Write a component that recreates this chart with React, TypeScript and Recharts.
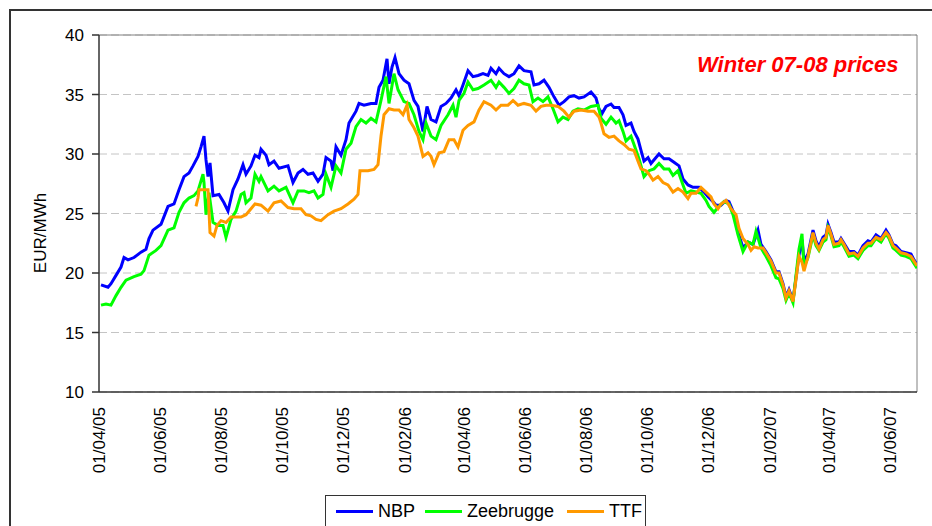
import { LineChart, Line, XAxis, YAxis, CartesianGrid, ReferenceLine, Label } from "recharts";

const FONT = '"Liberation Sans", Arial, sans-serif';

// x = days since 01/04/05
const tickDays = [0, 61, 122, 183, 244, 306, 365, 426, 487, 548, 609, 671, 730, 791];
const tickLabels = [
  "01/04/05", "01/06/05", "01/08/05", "01/10/05", "01/12/05", "01/02/06", "01/04/06",
  "01/06/06", "01/08/06", "01/10/06", "01/12/06", "01/02/07", "01/04/07", "01/06/07",
];
const yTicks = [10, 15, 20, 25, 30, 35, 40];

const nbp: [number, number][] = [
  [2, 19.0], [9, 18.8], [12, 19.1], [17, 19.8], [22, 20.5], [25, 21.3], [29, 21.1], [35, 21.3], [42, 21.75],
  [47, 22.0], [50, 22.9], [54, 23.6], [62, 24.1], [69, 25.6], [75, 25.8], [80, 27.0], [85, 28.1], [90, 28.4],
  [94, 29.0], [99, 29.8], [102, 30.6], [105, 31.5], [107, 29.5], [109, 28.1], [111, 29.25], [114, 26.5],
  [120, 26.6], [125, 25.9], [129, 25.2], [134, 27.0], [139, 27.9], [144, 29.1], [147, 28.3], [152, 29.0],
  [156, 29.9], [160, 29.7], [162, 30.4], [167, 29.9], [170, 29.1], [175, 29.4], [180, 28.8], [189, 29.0],
  [194, 27.6], [199, 28.4], [204, 28.7], [209, 28.3], [214, 28.4], [219, 27.7], [224, 28.3], [227, 29.7],
  [232, 29.4], [234, 28.6], [237, 30.6], [242, 29.9], [247, 31.2], [250, 32.6], [257, 33.6], [260, 34.25],
  [265, 34.1], [272, 34.25], [277, 34.25], [280, 35.6], [284, 36.2], [288, 38.0], [290, 35.9], [293, 37.3],
  [296, 38.1], [300, 36.75], [305, 36.2], [310, 35.9], [315, 34.5], [319, 34.0], [324, 31.9], [328, 34.0],
  [332, 32.9], [337, 32.7], [342, 34.0], [347, 34.25], [352, 34.7], [357, 35.4], [360, 34.9], [364, 35.8],
  [369, 37.0], [374, 36.5], [379, 36.6], [384, 36.75], [389, 36.6], [392, 37.2], [397, 36.75], [400, 37.2],
  [405, 36.75], [410, 36.5], [415, 36.75], [420, 37.4], [425, 37.0], [432, 36.9], [435, 35.8], [440, 35.9],
  [445, 36.2], [450, 35.6], [455, 34.8], [460, 34.1], [465, 34.4], [470, 34.8], [475, 34.9], [480, 34.7],
  [485, 34.8], [492, 35.2], [497, 34.7], [500, 33.8], [503, 33.4], [507, 34.0], [512, 34.2], [515, 33.9],
  [520, 33.9], [524, 33.3], [527, 32.4], [532, 32.6], [535, 31.9], [539, 31.25], [542, 30.3], [545, 29.4],
  [549, 29.7], [552, 29.2], [557, 29.7], [560, 30.0], [565, 29.6], [570, 29.6], [575, 29.3], [580, 29.0],
  [584, 27.9], [589, 27.4], [594, 27.2], [600, 27.2], [605, 26.8], [609, 26.4], [614, 26.0], [617, 25.7],
  [622, 25.7], [627, 26.1], [630, 26.0], [635, 25.0], [640, 23.2], [644, 22.1], [649, 22.6], [654, 22.4],
  [659, 23.6], [662, 22.4], [667, 21.8], [672, 21.1], [677, 20.1], [680, 20.1], [684, 19.1], [687, 18.0],
  [690, 18.6], [694, 17.7], [697, 19.6], [700, 21.5], [703, 22.8], [705, 21.0], [709, 21.6], [714, 23.6],
  [717, 22.7], [720, 22.2], [724, 23.0], [727, 23.2], [729, 24.1], [732, 23.4], [735, 22.6], [740, 22.6],
  [742, 22.9], [745, 22.5], [750, 21.8], [755, 21.8], [759, 21.5], [764, 22.3], [769, 22.7], [772, 22.6],
  [777, 23.2], [782, 22.9], [787, 23.6], [790, 23.2], [794, 22.4], [797, 22.3], [802, 21.8], [807, 21.7],
  [812, 21.6], [815, 21.1], [818, 20.7],
];

const zeebrugge: [number, number][] = [
  [2, 17.3], [7, 17.4], [12, 17.3], [17, 18.1], [22, 18.8], [27, 19.4], [35, 19.7], [42, 19.9], [45, 20.2],
  [50, 21.5], [57, 21.9], [62, 22.3], [69, 23.6], [75, 23.8], [80, 25.1], [85, 25.9], [90, 26.3], [95, 26.5],
  [99, 26.9], [104, 28.3], [105, 27.6], [107, 24.9], [110, 26.75], [114, 24.25], [119, 24.0], [124, 24.0],
  [127, 23.0], [132, 24.5], [137, 25.2], [142, 26.6], [145, 26.75], [147, 25.9], [152, 26.3], [156, 28.3],
  [160, 27.7], [162, 28.1], [169, 26.9], [175, 27.3], [180, 26.9], [187, 27.2], [194, 25.9], [199, 26.9],
  [205, 26.9], [210, 26.75], [215, 26.9], [219, 26.3], [224, 26.6], [227, 28.3], [232, 27.2], [237, 29.0],
  [242, 28.4], [247, 30.4], [252, 30.9], [257, 32.3], [262, 32.9], [267, 32.6], [272, 33.0], [277, 32.7],
  [282, 34.5], [287, 36.5], [290, 34.25], [295, 36.75], [299, 35.4], [305, 34.4], [310, 34.25], [315, 33.3],
  [320, 31.9], [324, 31.2], [327, 32.6], [332, 31.5], [337, 31.2], [342, 32.4], [349, 33.3], [354, 34.1],
  [357, 33.1], [360, 34.5], [365, 35.1], [369, 36.05], [374, 35.4], [379, 35.5], [385, 35.8], [392, 36.2],
  [397, 35.6], [400, 36.05], [405, 35.6], [410, 35.1], [415, 35.5], [420, 36.2], [425, 35.9], [430, 35.8],
  [434, 34.4], [439, 34.7], [444, 34.4], [449, 34.8], [454, 33.8], [459, 32.7], [464, 33.1], [469, 32.9],
  [474, 33.6], [479, 33.8], [485, 33.7], [492, 34.0], [499, 34.1], [502, 33.0], [507, 32.5], [512, 33.1],
  [517, 32.6], [520, 32.8], [524, 31.9], [527, 31.1], [532, 31.5], [535, 30.8], [540, 29.6], [545, 28.1],
  [550, 28.6], [555, 28.75], [560, 29.2], [565, 28.75], [570, 28.75], [574, 28.2], [579, 28.6], [584, 27.4],
  [587, 26.7], [592, 26.9], [597, 26.8], [602, 26.7], [607, 26.1], [610, 25.6], [615, 25.1], [620, 25.6],
  [625, 26.0], [630, 25.8], [634, 24.9], [639, 23.2], [644, 21.8], [649, 22.6], [654, 22.4], [657, 23.5],
  [662, 22.1], [667, 21.4], [672, 20.6], [677, 19.6], [680, 19.5], [684, 18.7], [687, 17.7], [690, 18.3],
  [694, 17.5], [697, 19.8], [700, 22.0], [703, 23.3], [705, 20.5], [709, 21.3], [714, 23.2], [717, 22.3],
  [720, 21.9], [724, 22.6], [727, 22.8], [729, 23.8], [732, 23.1], [735, 22.2], [740, 22.3], [742, 22.6],
  [745, 22.2], [750, 21.4], [755, 21.5], [759, 21.2], [764, 21.9], [769, 22.3], [772, 22.3], [777, 22.9],
  [782, 22.6], [787, 23.3], [790, 22.9], [794, 22.1], [797, 21.9], [802, 21.5], [807, 21.4], [812, 21.2],
  [815, 20.8], [818, 20.4],
];

const ttf: [number, number][] = [
  [97, 25.6], [99, 26.3], [100, 27.0], [109, 27.0], [111, 23.4], [115, 23.1], [118, 24.0], [122, 24.4],
  [127, 24.25], [132, 24.7], [142, 24.7], [147, 24.9], [152, 25.4], [156, 25.8], [162, 25.7], [169, 25.2],
  [175, 25.9], [182, 26.05], [189, 25.5], [195, 25.4], [202, 25.4], [207, 24.9], [212, 24.8], [217, 24.5],
  [222, 24.4], [229, 24.9], [235, 25.2], [242, 25.4], [249, 25.8], [255, 26.2], [259, 26.6], [261, 28.6],
  [269, 28.6], [275, 28.7], [279, 29.1], [282, 31.5], [285, 33.3], [290, 33.8], [295, 33.7], [300, 33.7],
  [304, 33.3], [308, 34.1], [310, 32.9], [315, 32.2], [319, 31.5], [324, 29.8], [329, 30.1], [332, 29.8],
  [335, 29.1], [340, 30.1], [345, 30.2], [350, 31.2], [355, 31.2], [359, 30.6], [364, 32.0], [369, 32.4],
  [375, 32.7], [380, 33.7], [385, 34.4], [392, 34.1], [397, 33.7], [402, 34.1], [409, 34.1], [414, 34.5],
  [419, 34.1], [425, 34.25], [432, 34.1], [437, 33.6], [442, 34.0], [447, 34.1], [452, 34.1], [459, 34.0],
  [465, 33.6], [470, 33.1], [475, 33.6], [482, 33.7], [489, 33.6], [495, 33.6], [500, 33.1], [502, 32.6],
  [505, 31.7], [510, 31.4], [515, 31.5], [520, 31.1], [525, 30.8], [530, 30.4], [535, 30.3], [539, 29.4],
  [542, 28.75], [547, 28.6], [550, 28.3], [554, 27.8], [559, 28.1], [564, 27.6], [569, 27.4], [574, 26.8],
  [579, 27.1], [584, 26.8], [589, 26.25], [592, 26.7], [597, 26.7], [602, 27.2], [607, 26.8], [612, 26.4],
  [615, 25.8], [619, 25.4], [622, 25.8], [627, 26.1], [632, 25.4], [637, 24.9], [640, 23.75], [644, 22.9],
  [649, 22.4], [652, 21.9], [655, 22.2], [659, 22.1], [664, 22.1], [667, 21.7], [672, 21.0], [677, 20.0],
  [680, 20.0], [684, 19.0], [687, 17.9], [690, 18.5], [694, 17.6], [697, 19.45], [700, 21.4], [703, 20.9],
  [705, 20.15], [709, 21.4], [714, 23.4], [717, 22.5], [720, 22.0], [724, 22.8], [727, 23.0], [729, 24.0],
  [732, 23.25], [735, 22.4], [740, 22.5], [742, 22.8], [745, 22.4], [750, 21.6], [755, 21.7], [759, 21.4],
  [764, 22.1], [769, 22.5], [772, 22.5], [777, 23.0], [782, 22.8], [787, 23.4], [790, 23.1], [794, 22.3],
  [797, 22.1], [802, 21.7], [807, 21.6], [812, 21.4], [815, 21.0], [818, 20.6],
];

const series = [
  { name: "NBP", color: "#0000ff", points: nbp },
  { name: "Zeebrugge", color: "#00ff00", points: zeebrugge },
  { name: "TTF", color: "#ff9900", points: ttf },
];

function DateTick({ x, y, payload }: any) {
  const label = tickLabels[tickDays.indexOf(payload.value)];
  return (
    <text x={x} y={y} dy="0.35em" transform={`rotate(-90 ${x} ${y})`} textAnchor="end"
      fontSize={17} fontFamily={FONT} fill="#000">
      {label}
    </text>
  );
}

export default function App() {
  return (
    <div style={{ position: "absolute", left: 0, top: 0, width: 932, height: 526, overflow: "hidden", background: "#fff" }}>
      {/* outer chart frame, cropped on right/bottom */}
      <div style={{ position: "absolute", left: 9, top: 9, width: 1000, height: 700, border: "2px solid #333" }} />

      <div style={{ position: "absolute", left: 0, top: 0 }}>
        <LineChart width={932} height={526} margin={{ top: 35, right: 15, bottom: 0, left: 0 }}>
          <CartesianGrid vertical={false} stroke="#c4c4c4" strokeDasharray="8 4" />
          <XAxis dataKey="d" type="number" domain={[0, 818]} ticks={tickDays} interval={0}
            tick={(p: any) => <DateTick {...p} />} tickLine={false} tickSize={0} tickMargin={15}
            height={134} axisLine={{ stroke: "#333", strokeWidth: 1.5 }} allowDataOverflow />
          <YAxis type="number" domain={[10, 40]} ticks={yTicks} interval={0} width={99}
            tickSize={7} tickMargin={8} axisLine={{ stroke: "#333", strokeWidth: 1.5 }}
            tickLine={{ stroke: "#333", strokeWidth: 1.5 }}
            tick={{ fontSize: 17, fill: "#000", fontFamily: FONT }}>
            <Label content={() => (
              <text x={40} y={233} dy="0.35em" transform="rotate(-90 40 233)" textAnchor="middle"
                fontSize={17} fontFamily={FONT} fill="#000">EUR/MWh</text>
            )} />
          </YAxis>
          <ReferenceLine y={40} stroke="#808080" strokeWidth={1} />
          <ReferenceLine x={818} stroke="#808080" strokeWidth={1} />
          {series.map((s) => (
            <Line key={s.name} name={s.name} data={s.points.map(([d, v]) => ({ d, v }))} dataKey="v"
              type="linear" stroke={s.color} strokeWidth={3} dot={false} activeDot={false}
              isAnimationActive={false} />
          ))}
        </LineChart>
      </div>

      <div style={{ position: "absolute", left: 697, top: 54, fontFamily: FONT, fontSize: 22, lineHeight: "22px",
        fontWeight: "bold", fontStyle: "italic", color: "#ff0000", whiteSpace: "nowrap" }}>
        Winter 07-08 prices
      </div>

      <div style={{ position: "absolute", left: 325, top: 495, width: 319, height: 60, border: "1px solid #333",
        background: "#fff", fontFamily: FONT, fontSize: 18, lineHeight: "18px" }}>
        {series.map((s, i) => {
          const lineLeft = [10, 99, 241][i];
          return (
            <div key={s.name}>
              <div style={{ position: "absolute", left: lineLeft, top: 14, width: 37, height: 3, background: s.color }} />
              <div style={{ position: "absolute", left: lineLeft + 42, top: 6, whiteSpace: "nowrap", color: "#000" }}>{s.name}</div>
            </div>
          );
        })}
      </div>
    </div>
  );
}
